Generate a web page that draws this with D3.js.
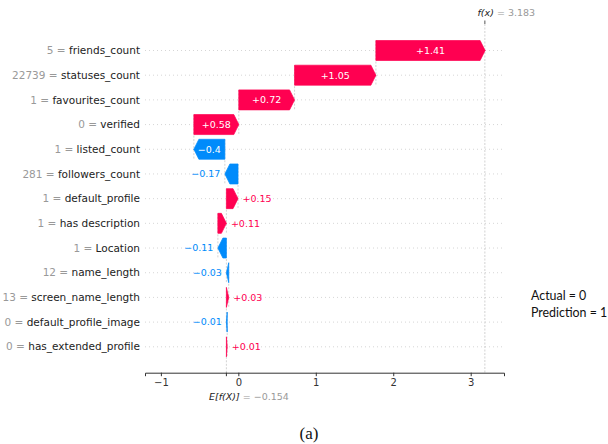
<!DOCTYPE html>
<html>
<head>
<meta charset="utf-8">
<script src="https://cdn.jsdelivr.net/npm/d3@7"></script>
<style>
  html, body { margin: 0; padding: 0; background: #fff; }
  svg { display: block; font-family: "DejaVu Sans", sans-serif; }
</style>
</head>
<body>
<svg id="chart" width="608" height="444"></svg>
<script>
// Feature contributions for a single prediction, top row first
const features = ["friends_count", "statuses_count", "favourites_count", "verified",
  "listed_count", "followers_count", "default_profile", "has description", "Location",
  "name_length", "screen_name_length", "default_profile_image", "has_extended_profile"];
const featureValues = ["5", "22739", "1", "0", "1", "281", "1", "1", "1", "12", "13", "0", "0"];
const shapValues = [1.41, 1.05, 0.72, 0.58, -0.4, -0.17, 0.15, 0.11, -0.11, -0.03, 0.03, -0.01, 0.01];
const baseValue = -0.154;
const outputValue = 3.183;
const xTicks = [-1, 0, 1, 2, 3];
const noteLines = ["Actual = 0", "Prediction = 1"];
const caption = "(a)";

const RED = "#ff0051", BLUE = "#008bfb";
const svg = d3.select("#chart");

const x = d3.scaleLinear().domain([-1.205, 3.43]).range([145, 504]);
const y = d3.scalePoint().domain(features).range([50.5, 346.8]);
const axisY = 372.7, plotTop = 24;
const barH = 20;
const headLen = 5;

// cumulative positions, built from the bottom row upwards
const bars = [];
let cum = baseValue;
for (let i = features.length - 1; i >= 0; i--) {
  const v = shapValues[i];
  bars[i] = { name: features[i], fv: featureValues[i], v: v, start: cum, end: cum + v };
  cum += v;
}

// horizontal dotted row guides
svg.append("g").selectAll("line").data(features).join("line")
  .attr("x1", x.range()[0]).attr("x2", x.range()[1])
  .attr("y1", d => y(d)).attr("y2", d => y(d))
  .attr("stroke", "#cccccc").attr("stroke-width", 0.8)
  .attr("stroke-dasharray", "1,3");

// faint dashed lines for the base value and the model output
const guide = svg.append("g").attr("stroke", "#c8c8c8").attr("stroke-width", 0.8)
  .attr("stroke-dasharray", "2,1.5");
guide.append("line")
  .attr("x1", x(outputValue)).attr("x2", x(outputValue))
  .attr("y1", plotTop).attr("y2", axisY);
guide.append("line")
  .attr("x1", x(baseValue)).attr("x2", x(baseValue))
  .attr("y1", y(features[features.length - 1]) + barH / 2).attr("y2", axisY);
// connectors between consecutive bars
bars.forEach((b, i) => {
  if (i === features.length - 1) return;
  guide.append("line")
    .attr("x1", x(b.start)).attr("x2", x(b.start))
    .attr("y1", y(b.name) - barH / 2)
    .attr("y2", y(features[i + 1]) + barH / 2);
});

// arrow-shaped bars
function arrowPath(b) {
  const x0 = x(b.start), x1 = x(b.end);
  const cy = y(b.name), t = cy - barH / 2, bt = cy + barH / 2;
  const w = Math.abs(x1 - x0);
  const h = Math.min(headLen, w);
  const dir = x1 >= x0 ? 1 : -1;
  const xb = x1 - dir * h;
  return `M${x0},${t}L${xb},${t}L${x1},${cy}L${xb},${bt}L${x0},${bt}Z`;
}
svg.append("g").selectAll("path").data(bars).join("path")
  .attr("d", arrowPath)
  .attr("fill", d => d.v >= 0 ? RED : BLUE)
  .attr("stroke", d => d.v >= 0 ? RED : BLUE)
  .attr("stroke-width", 0.7)
  .attr("stroke-linejoin", "miter");

// value labels: inside the arrow when it fits, otherwise beside it
const fmt = v => (v >= 0 ? "+" : "\u2212") + String(Math.abs(v));
const lblG = svg.append("g").style("font-size", "9.5px");
bars.forEach(b => {
  const txt = lblG.append("text").text(fmt(b.v))
    .attr("y", y(b.name)).attr("dy", "0.35em");
  const tw = txt.node().getComputedTextLength();
  const x0 = x(b.start), x1 = x(b.end);
  const w = Math.abs(x1 - x0);
  if (w > tw + 3) {
    txt.attr("x", (x0 + x1) / 2).attr("text-anchor", "middle").attr("fill", "#fff");
  } else if (b.v >= 0) {
    txt.attr("x", Math.max(x0, x1) + 4.5).attr("text-anchor", "start").attr("fill", RED);
  } else {
    txt.attr("x", Math.min(x0, x1) - 4.5).attr("text-anchor", "end").attr("fill", BLUE);
  }
});

// feature labels on the left
const yl = svg.append("g").style("font-size", "10.5px").attr("text-anchor", "end");
bars.forEach(b => {
  const t = yl.append("text").attr("x", 140).attr("y", y(b.name)).attr("dy", "0.35em");
  t.append("tspan").attr("fill", "#999").text(b.fv + " = ");
  t.append("tspan").attr("fill", "#222").text(b.name);
});

// bottom axis
const axis = svg.append("g").attr("transform", `translate(0,${axisY})`)
  .call(d3.axisBottom(x).tickValues(xTicks).tickFormat(d3.format("~g"))
    .tickSizeOuter(0).tickSize(3.5).tickPadding(3));
axis.select(".domain").attr("stroke", "#333").attr("stroke-width", 1);
axis.selectAll(".tick line").attr("stroke", "#333");
axis.selectAll(".tick text").attr("fill", "#333")
  .style("font-size", "10px").style("font-family", "'DejaVu Sans', sans-serif");
axis.append("line").attr("x1", x(baseValue)).attr("x2", x(baseValue))
  .attr("y1", 0).attr("y2", 3.5).attr("stroke", "#333");

// base value annotation under the axis
const eLab = svg.append("text").attr("x", 209).attr("y", 400).style("font-size", "9.5px");
eLab.append("tspan").attr("fill", "#222").attr("font-style", "italic").text("E[f(X)]");
eLab.append("tspan").attr("fill", "#999").text(" = " + d3.format(".3f")(baseValue));

// model output annotation on top
svg.append("line").attr("x1", x(outputValue)).attr("x2", x(outputValue))
  .attr("y1", 20.5).attr("y2", plotTop).attr("stroke", "#555");
const fLab = svg.append("text").attr("x", 477.5).attr("y", 15.5).style("font-size", "9.5px");
fLab.append("tspan").attr("fill", "#222").attr("font-style", "italic").text("f(x)");
fLab.append("tspan").attr("fill", "#999").text(" = " + outputValue);

// side note
svg.append("g").selectAll("text").data(noteLines).join("text")
  .attr("x", 531).attr("y", (d, i) => 300 + i * 17)
  .style("font-family", "Lato, 'Open Sans', sans-serif").style("font-size", "12.4px")
  .attr("fill", "#111").text(d => d);

// caption
svg.append("text").attr("x", 309).attr("y", 439).attr("text-anchor", "middle")
  .style("font-family", "'Liberation Serif', serif").style("font-size", "17px")
  .attr("fill", "#111").text(caption);
</script>
</body>
</html>
